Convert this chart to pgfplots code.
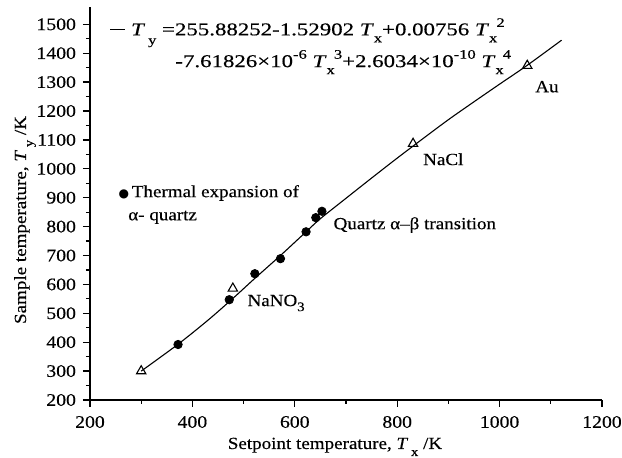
\documentclass[border=0pt]{standalone}
\usepackage{fontspec}
\setmainfont[FakeStretch=1.12, FakeBold=0.35]{Liberation Serif}
\newfontfamily\eqfont[FakeStretch=1.27, FakeBold=0.35]{Liberation Serif}
\newfontfamily\symfont{DejaVu Sans}
\usepackage{pgfplots}
\pgfplotsset{compat=1.18}

% lowered / raised indices in a small size
\newcommand{\sub}[2][3.5pt]{\raisebox{-#1}{\fontsize{6.5}{7}\selectfont #2}}
\newcommand{\sups}[1]{\raisebox{4.2pt}{\fontsize{6.5}{7}\selectfont #1}}
% T with a subscript followed by a superscript
\newcommand{\Tsx}[2]{\textit{T}\sub{#1}\kern-0.05em\sups{#2}}

\pgfplotstableread{
x     y
300   300
372   393
431   477
480   553
522   621
572   700
622   782
649   826
700   898
750   968
800   1037
850   1104
900   1170
950   1232
1000  1293
1053  1357
1121  1445
}\fitcurve

\pgfplotstableread{
x    y
372  392
472  547
522  637
572  689
622  782
641  831
653  853
}\quartz

\pgfplotstableread{
x     y
300   300
479   586
831   1087
1054  1357
}\standards

\begin{document}
\begin{tikzpicture}
\useasboundingbox (-45pt,-29pt) rectangle (266pt,200pt);
\begin{axis}[
  at={(0,0)}, anchor=south west,
  scale only axis, width=256pt, height=196.5pt,
  xmin=200, xmax=1200, ymin=200, ymax=1560,
  axis x line=bottom, axis y line=left,
  axis line style={line width=0.75pt, -},
  xtick={200,400,...,1200}, ytick={200,300,...,1500},
  minor xtick={300,500,...,1100}, minor ytick={250,350,...,1450},
  tick align=outside, major tick length=3.5pt, minor tick length=2pt,
  every tick/.style={line width=0.65pt, black},
  /pgf/number format/assume math mode=true,
  /pgf/number format/1000 sep={},
  tick label style={font=\fontsize{8.8}{10}\selectfont},
  xticklabel style={yshift=-1pt},
  xlabel={Setpoint temperature, \textit{T}\,\sub{x} /K},
  ylabel={Sample temperature, \textit{T}\,\sub{y} /K},
  label style={font=\fontsize{8.5}{10}\selectfont},
  xlabel style={at={(rel axis cs:0.4785,-0.1247)}, anchor=base},
  ylabel style={at={(rel axis cs:-0.125,0.458)}, anchor=base},
  clip=false,
]
% polynomial calibration curve
\addplot[black, line width=0.55pt, smooth] table {\fitcurve};
% thermal expansion of alpha-quartz
\addplot[only marks, mark=*, mark size=2.1pt, black] table {\quartz};
% melting / transition standards
\addplot[only marks, mark=triangle, mark size=2.7pt, black,
  mark options={line width=0.55pt}] table {\standards};

\node[anchor=base west, inner sep=0, font=\eqfont\fontsize{9}{10}\selectfont]
  at (axis cs:239,1462)
  {\rule[0.3em]{7.5pt}{0.55pt} \textit{T}\,\sub[4.5pt]{y} =255.88252-1.52902 \textit{T}\sub{x}+0.00756 \Tsx{x}{2}};
\node[anchor=base west, inner sep=0, font=\eqfont\fontsize{9}{10}\selectfont]
  at (axis cs:366,1352)
  {-7.61826×10\sups{-6} \Tsx{x}{3}+2.6034×10\sups{-10} \Tsx{x}{4}};

\node[anchor=base west, inner sep=0, font=\fontsize{8.5}{10}\selectfont]
  at (axis cs:255,902) {{\symfont\fontsize{6}{6}\selectfont ●}\,Thermal expansion of};
\node[anchor=base west, inner sep=0, font=\fontsize{8.5}{10}\selectfont]
  at (axis cs:274,822) {α- quartz};
\node[anchor=base west, inner sep=0, font=\fontsize{8.5}{10}\selectfont]
  at (axis cs:675,791) {Quartz α–β transition};
\node[anchor=base west, inner sep=0, font=\fontsize{8.5}{10}\selectfont]
  at (axis cs:507,525) {NaNO\sub[2.5pt]{3}};
\node[anchor=base west, inner sep=0, font=\fontsize{8.5}{10}\selectfont]
  at (axis cs:850,1013) {NaCl};
\node[anchor=base west, inner sep=0, font=\fontsize{8.5}{10}\selectfont]
  at (axis cs:1069,1265) {Au};
\end{axis}
\end{tikzpicture}
\end{document}
